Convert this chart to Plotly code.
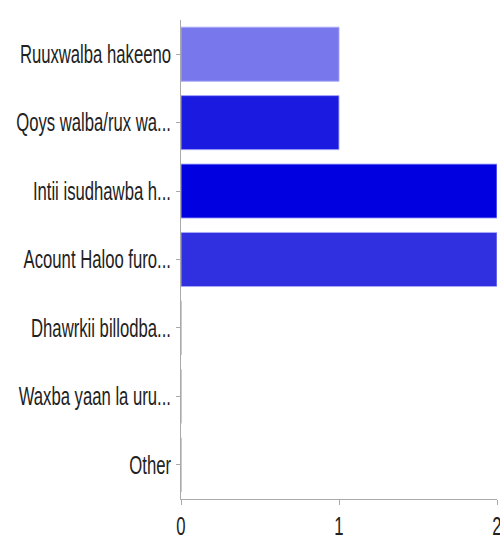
import plotly.graph_objects as go

categories = ["Ruuxwalba hakeeno", "Qoys walba/rux wa...", "Intii isudhawba h...",
              "Acount Haloo furo...", "Dhawrkii billodba...", "Waxba yaan la uru...", "Other"]
values = [1, 1, 2, 2, 0, 0, 0]
colors = ["#7878ec", "#1a1ae0", "#0000e0", "#3030e0", "#3030e0", "#3030e0", "#3030e0"]
x_ticks = [0, 1, 2]

fig = go.Figure(go.Bar(
    x=values, y=categories, orientation="h",
    marker=dict(color=colors, line=dict(color="rgba(170,170,250,0.9)", width=1)),
    hoverinfo="skip",
))

font = dict(family="Liberation Sans, Arial, Helvetica, sans-serif", size=25, color="#222222")

fig.update_layout(
    width=500, height=535,
    margin=dict(l=181, r=3, t=20, b=36),
    plot_bgcolor="white", paper_bgcolor="white",
    bargap=0.21, showlegend=False,
    font=font,
    xaxis=dict(range=[0, 2], tickvals=x_ticks, ticks="outside", ticklen=5,
               tickcolor="#aaaaaa", showline=True, linecolor="#aaaaaa", linewidth=1,
               showgrid=False, zeroline=False, tickfont=font, automargin=False,
               ticklabeloverflow="allow"),
    yaxis=dict(categoryorder="array", categoryarray=categories, autorange="reversed",
               ticks="outside", ticklen=4, tickcolor="#aaaaaa", showline=True,
               linecolor="#aaaaaa", linewidth=1, showgrid=False, zeroline=False,
               tickfont=font, automargin=False),
)

post = """
document.documentElement.style.margin = '0';
document.documentElement.style.overflow = 'hidden';
document.body.style.margin = '0';
document.body.style.overflow = 'hidden';
var gd = document.getElementById('{plot_id}');
function squish(){
  gd.querySelectorAll('.ytick text, .xtick text').forEach(function(t){
    t.removeAttribute('textLength');
    var L = t.getComputedTextLength();
    t.setAttribute('lengthAdjust', 'spacingAndGlyphs');
    t.setAttribute('textLength', (L * 0.667).toFixed(2));
  });
}
squish();
gd.on('plotly_afterplot', squish);
"""

fig.write_html("out.html", post_script=post, config={"displayModeBar": False})
